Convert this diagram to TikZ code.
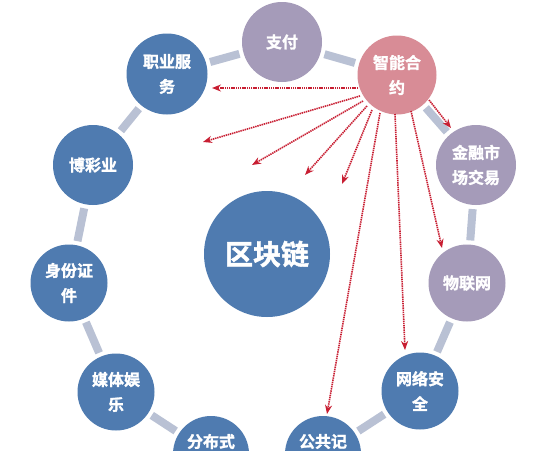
\documentclass[tikz,border=0pt]{standalone}
\usepackage{fontspec}
\setmainfont{Noto Sans CJK SC}
\newfontfamily\cjkb{Noto Sans CJK SC Bold}[FakeBold=1.5]
\usetikzlibrary{arrows.meta}
\definecolor{cblue}{HTML}{4F7BB0}
\definecolor{cpurple}{HTML}{A59BB9}
\definecolor{cpink}{HTML}{D88C96}
\definecolor{cseg}{HTML}{B9C1D4}
\definecolor{cred}{HTML}{C81E32}
\tikzset{
  bub/.style={circle, minimum size=#1, inner sep=0pt, text=white, align=center,
    font=\cjkb\fontsize{16}{25}\selectfont},
  bluebub/.style={bub=#1, fill=cblue},
  purbub/.style={bub=#1, fill=cpurple},
  pinkbub/.style={bub=#1, fill=cpink},
  seg/.style={draw=cseg, line width=8pt, shorten <=4pt, shorten >=4pt},
  redarr/.style={draw=cred, line width=1.6pt, dash pattern=on 1.4pt off 0.8pt,
    -{Stealth[length=9pt,width=7pt]}},
}
\begin{document}
\begin{tikzpicture}[x=1pt,y=-1pt]
\useasboundingbox (0,0) rectangle (551,450);
\clip (0,0) rectangle (551,450);
\fill[white] (0,0) rectangle (551,450);
% bubbles
\node[purbub=80pt] (zf) at (282,42) {支付};
\node[pinkbub=79pt] (zn) at (397,75) {智能合\\约};
\node[bluebub=81pt] (zy) at (167,74) {职业服\\务};
\node[bluebub=80pt] (bc) at (93,165) {博彩业};
\node[bluebub=77pt] (sf) at (69,283) {身份证\\件};
\node[bluebub=77pt] (mt) at (116,392) {媒体娱\\乐};
\node[bluebub=76pt] (fb) at (211,454) {分布式\\\phantom{账}};
\node[bluebub=76pt] (gg) at (323,454) {公共记\\\phantom{录}};
\node[bluebub=77pt] (wl) at (420,391) {网络安\\全};
\node[purbub=77pt] (wu) at (467,283) {物联网};
\node[purbub=80pt] (jr) at (476,165) {金融市\\场交易};
\node[bluebub=126pt, font=\cjkb\fontsize{28}{30}\selectfont] (qk) at (267,254) {区块链};
% ring segments
\draw[seg] (zy) -- (zf);
\draw[seg] (zf) -- (zn);
\draw[seg] (zn) -- (jr);
\draw[seg] (jr) -- (wu);
\draw[seg] (wu) -- (wl);
\draw[seg] (wl) -- (gg);
\draw[seg] (mt) -- (fb);
\draw[seg] (sf) -- (mt);
\draw[seg] (bc) -- (sf);
\draw[seg] (zy) -- (bc);
% arrow tips
\coordinate (t1) at (212,88);
\coordinate (t2) at (203,142);
\coordinate (t3) at (252,165);
\coordinate (t4) at (305,175);
\coordinate (t5) at (342,184);
\coordinate (t6) at (327,414);
\coordinate (t7) at (405,350);
\coordinate (t8) at (442,248);
\coordinate (t9) at (451,128);
% arrow starts
\coordinate (s1) at (358,88);
\coordinate (s2) at (360,96);
\coordinate (s3) at (363,101);
\coordinate (s4) at (367,106);
\coordinate (s5) at (372,110);
\coordinate (s6) at (380,113);
\coordinate (s7) at (395,114);
\coordinate (s8) at (411,111);
\coordinate (s9) at (429,100);
\draw[redarr] (s1) -- (t1);
\draw[redarr] (s2) -- (t2);
\draw[redarr] (s3) -- (t3);
\draw[redarr] (s4) -- (t4);
\draw[redarr] (s5) -- (t5);
\draw[redarr] (s6) -- (t6);
\draw[redarr] (s7) -- (t7);
\draw[redarr] (s8) -- (t8);
\draw[redarr] (s9) -- (t9);
\end{tikzpicture}
\end{document}
